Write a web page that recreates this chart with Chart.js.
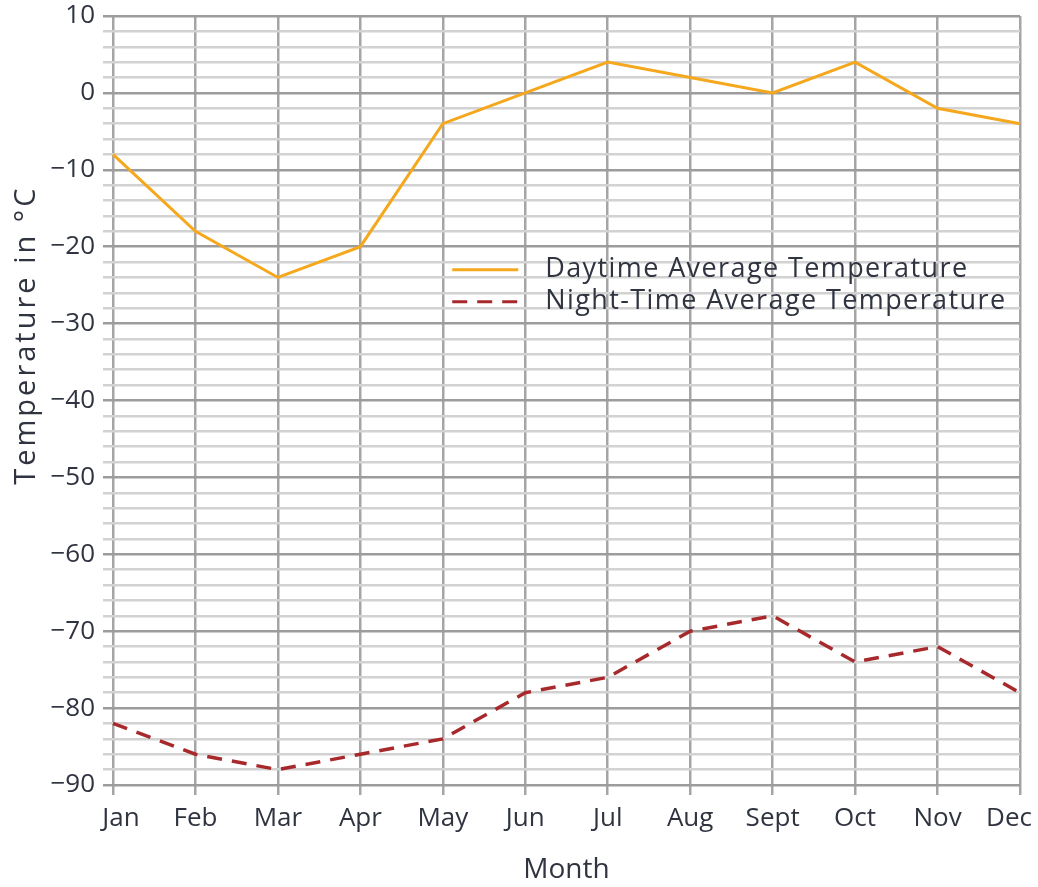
<!DOCTYPE html>
<html>
<head>
<meta charset="utf-8">
<script src="https://cdn.jsdelivr.net/npm/chart.js@4/dist/chart.umd.min.js"></script>
<style>
  html, body { margin: 0; padding: 0; background: #fff; }
  #wrap { width: 1038px; height: 887px; }
</style>
</head>
<body>
<div id="wrap"><canvas id="tempChart" width="1038" height="887"></canvas></div>
<script>
// Data
const months = ['Jan', 'Feb', 'Mar', 'Apr', 'May', 'Jun', 'Jul', 'Aug', 'Sept', 'Oct', 'Nov', 'Dec'];
const dayTemps = [-8, -18, -24, -20, -4, 0, 4, 2, 0, 4, -2, -4];
const nightTemps = [-82, -86, -88, -86, -84, -78, -76, -70, -68, -74, -72, -78];
const seriesNames = ['Daytime Average Temperature', 'Night-Time Average Temperature'];
const yTitle = 'Temperature in \u00B0C';
const yMin = -90, yMax = 10;

const textColor = '#2f3440';
const fontFamily = '"Open Sans", Lato, sans-serif';

// Legend drawn inside the plot, no box behind it
const insideLegend = {
    id: 'insideLegend',
    afterDatasetsDraw(chart) {
        const { ctx, chartArea } = chart;
        const x0 = chartArea.left + (chartArea.right - chartArea.left) * 0.374;
        const y0 = chartArea.top + (chartArea.bottom - chartArea.top) * 0.330;
        const rowGap = 32;
        ctx.save();
        ctx.font = '27px ' + fontFamily;
        ctx.letterSpacing = '1.4px';
        ctx.textBaseline = 'middle';
        ctx.fillStyle = textColor;
        chart.data.datasets.forEach((ds, i) => {
            const y = y0 + i * rowGap;
            ctx.beginPath();
            ctx.strokeStyle = ds.borderColor;
            ctx.lineWidth = 3;
            ctx.setLineDash(ds.borderDash || []);
            ctx.moveTo(x0, y);
            ctx.lineTo(x0 + 66, y);
            ctx.stroke();
            ctx.setLineDash([]);
            ctx.fillText(ds.label, x0 + 93, y);
        });
        ctx.restore();
    }
};

// Y axis title sits a bit above the middle in the original
const yAxisTitle = {
    id: 'yAxisTitle',
    afterDraw(chart) {
        const { ctx, chartArea } = chart;
        const cy = chartArea.top + (chartArea.bottom - chartArea.top) * 0.415;
        ctx.save();
        ctx.translate(27, cy);
        ctx.rotate(-Math.PI / 2);
        ctx.font = '29px ' + fontFamily;
        ctx.letterSpacing = '3px';
        ctx.textAlign = 'center';
        ctx.textBaseline = 'middle';
        ctx.fillStyle = textColor;
        ctx.fillText(yTitle, 0, 0);
        ctx.restore();
    }
};

// Pull the first and last month labels inwards so they stay on the canvas
const edgeLabels = {
    id: 'edgeLabels',
    beforeDraw(chart) {
        const items = chart.scales.x.getLabelItems(chart.chartArea);
        if (!items.length) return;
        items[0].options.translation[0] += 8;
        items[items.length - 1].options.translation[0] -= 11;
    }
};

const ctx = document.getElementById('tempChart').getContext('2d');
new Chart(ctx, {
    type: 'line',
    data: {
        labels: months,
        datasets: [
            {
                label: seriesNames[0],
                data: dayTemps,
                borderColor: '#f5a81e',
                borderWidth: 3,
                pointRadius: 0,
                tension: 0,
                fill: false
            },
            {
                label: seriesNames[1],
                data: nightTemps,
                borderColor: '#a8292c',
                borderWidth: 3.5,
                borderDash: [15, 10],
                pointRadius: 0,
                tension: 0,
                fill: false
            }
        ]
    },
    options: {
        responsive: false,
        animation: false,
        layout: { padding: { left: 0, right: 18, top: 16, bottom: 0 } },
        plugins: {
            legend: { display: false },
            tooltip: { enabled: false }
        },
        scales: {
            x: {
                offset: false,
                grid: {
                    color: '#a5a5a5',
                    lineWidth: 2.5,
                    tickLength: 10
                },
                border: { display: false },
                ticks: {
                    color: textColor,
                    font: { family: fontFamily, size: 26 },
                    padding: 8,
                    maxRotation: 0,
                    autoSkip: false
                },
                title: {
                    display: true,
                    text: 'Month',
                    color: textColor,
                    font: { family: fontFamily, size: 28 },
                    padding: { top: 10, bottom: 0 }
                },
                afterFit(scale) {
                    scale.height = 102;
                    scale.paddingLeft = 0;
                    scale.paddingRight = 0;
                }
            },
            y: {
                min: yMin,
                max: yMax,
                grid: {
                    color: c => (c.tick && c.tick.value % 10 === 0) ? '#9c9c9c' : '#d2d2d2',
                    lineWidth: 2.5,
                    tickLength: 10
                },
                border: { display: false },
                ticks: {
                    stepSize: 2,
                    autoSkip: false,
                    color: textColor,
                    font: { family: fontFamily, size: 26 },
                    padding: 8,
                    callback: v => v % 10 === 0 ? String(v).replace('-', '\u2212') : ''
                },
                title: { display: false },
                afterFit(scale) {
                    scale.width = 113;
                    scale.paddingTop = 0;
                    scale.paddingBottom = 0;
                }
            }
        }
    },
    plugins: [edgeLabels, insideLegend, yAxisTitle]
});
</script>
</body>
</html>
